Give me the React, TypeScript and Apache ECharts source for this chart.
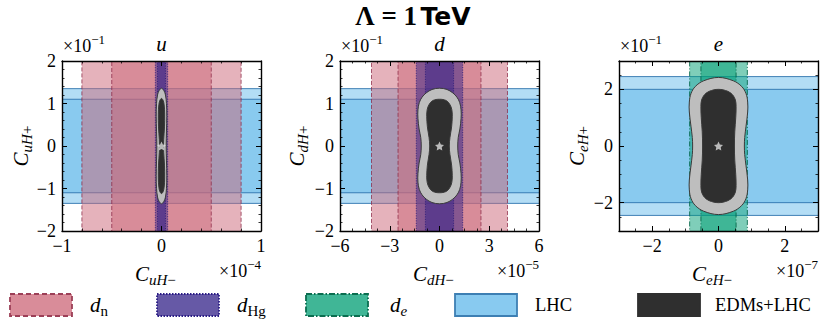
import React, { useEffect, useRef } from "react";
import * as echarts from "echarts";

// ---------- data ----------
const panelNames = ["u", "d", "e"];
const xMin = [-1, -6, -3];
const xMax = [1, 6, 3];
const xMajor = [[-1, 0, 1], [-6, -3, 0, 3, 6], [-2, 0, 2]];
const xMinorStep = [0.2, 0.75, 0.5];
const yMin = [-2, -2, -3];
const yMax = [2, 2, 3];
const yMajor = [[-2, -1, 0, 1, 2], [-2, -1, 0, 1, 2], [-2, 0, 2]];
const yMinorStep = [0.2, 0.2, 0.5];
const xExponent = ["−4", "−5", "−7"];
const yExponent = ["−1", "−1", "−1"];

// band half-widths (null = band absent in that panel)
const lhcInner = [1.1, 1.1, 2.0];
const lhcOuter = [1.35, 1.35, 2.45];
const dnInner = [0.5, 2.5, null];
const dnOuter = [0.8, 4.1, null];
const dHgInner = [0.04, 0.85, null];
const dHgOuter = [0.062, 1.4, null];
const deInner = [null, null, 0.53];
const deOuter = [null, null, 0.87];

// quarter contour outlines [x, y], from top (x = 0) down to y = 0
const grayU = [[0, 1.36], [0.025, 1.3], [0.04, 1.2], [0.05, 1.0], [0.053, 0.7], [0.05, 0.35], [0.047, 0]];
const blackU = [[0, 1.12], [0.015, 1.08], [0.026, 0.98], [0.032, 0.75], [0.03, 0.45], [0.022, 0.15], [0.02, 0]];
const grayD = [[0, 1.36], [0.45, 1.33], [0.8, 1.25], [1.05, 1.15], [1.22, 1.02], [1.3, 0.85], [1.3, 0.65], [1.23, 0.4], [1.13, 0.2], [1.1, 0]];
const blackD = [[0, 1.1], [0.4, 1.07], [0.62, 0.98], [0.74, 0.86], [0.77, 0.7], [0.73, 0.45], [0.63, 0.2], [0.59, 0]];
const grayE = [[0, 2.42], [0.45, 2.3], [0.7, 2.1], [0.83, 1.85], [0.88, 1.55], [0.88, 1.2], [0.83, 0.7], [0.79, 0.3], [0.78, 0]];
const blackE = [[0, 2.0], [0.28, 1.93], [0.43, 1.8], [0.51, 1.62], [0.53, 1.4], [0.52, 1.0], [0.49, 0.5], [0.48, 0]];
const grayContours = [grayU, grayD, grayE];
const blackContours = [blackU, blackD, blackE];
const bestFit = [[0, 0]];

// legend
const legendKeys = ["dn", "dHg", "de", "lhc", "edm"];

// ---------- styles ----------
const SERIF = "'Liberation Serif', 'DejaVu Serif', serif";
const gridLeft = [62, 340, 619];
const gridTop = 61;
const gridW = 199;
const gridH = 170;

const BLUE = { fill: "rgba(86,180,233,0.45)", stroke: "rgba(40,110,170,0.85)", dash: null as any };
const PINK = { fill: "rgba(204,102,119,0.5)", stroke: "rgba(140,40,70,0.75)", dash: [4, 2] };
const PURPLE = { fill: "rgba(51,34,136,0.5)", stroke: "rgba(40,25,120,0.85)", dash: [1, 1.5] };
const GREEN = { fill: "rgba(0,158,115,0.5)", stroke: "rgba(0,100,70,0.85)", dash: [5, 2, 1, 2] };

function mirror(q: number[][]) {
  const right = q.concat(q.slice(0, -1).reverse().map(([x, y]) => [x, -y]));
  const left = right.slice(1, -1).reverse().map(([x, y]) => [-x, y]);
  return right.concat(left);
}

function bandSeries(i: number, data: number[][], st: any) {
  return {
    type: "custom",
    xAxisIndex: 4 * i,
    yAxisIndex: 4 * i,
    clip: true,
    silent: true,
    data,
    renderItem: (_p: any, api: any) => {
      const p0 = api.coord([api.value(0), api.value(3)]);
      const p1 = api.coord([api.value(1), api.value(2)]);
      return {
        type: "rect",
        shape: { x: p0[0], y: p0[1], width: p1[0] - p0[0], height: p1[1] - p0[1] },
        style: { fill: st.fill, stroke: st.stroke, lineWidth: 1, lineDash: st.dash || undefined },
      };
    },
  };
}

function contourSeries(i: number, q: number[][], fill: string) {
  const pts = mirror(q);
  return {
    type: "custom",
    xAxisIndex: 4 * i,
    yAxisIndex: 4 * i,
    clip: true,
    silent: true,
    data: [[0, 0]],
    renderItem: (_p: any, api: any) => ({
      type: "polygon",
      shape: { points: pts.map((p) => api.coord(p)), smooth: 0.35 },
      style: { fill, stroke: "#3a3a3a", lineWidth: 1 },
    }),
  };
}

const fmt = (v: number) => (v < 0 ? "−" + Math.abs(v) : String(v));

function axisPair(i: number, isX: boolean, position: string, withLabels: boolean) {
  const min = isX ? xMin[i] : yMin[i];
  const max = isX ? xMax[i] : yMax[i];
  const step = isX ? xMinorStep[i] : yMinorStep[i];
  const majors = isX ? xMajor[i] : yMajor[i];
  const common = {
    type: "value",
    gridIndex: i,
    position,
    min,
    max,
    interval: step,
    z: 10,
    splitLine: { show: false },
    minorTick: { show: false },
  };
  const major = {
    ...common,
    axisLine: { show: true, onZero: false, lineStyle: { color: "#000", width: 1.4 } },
    axisTick: { show: true, inside: true, length: 5, customValues: majors, lineStyle: { color: "#000", width: 1 } },
    axisLabel: withLabels
      ? {
          show: true,
          color: "#000",
          fontFamily: SERIF,
          fontSize: 18,
          margin: 6,
          customValues: majors,
          formatter: fmt,
        }
      : { show: false },
  };
  const minor = {
    ...common,
    axisLine: { show: false, onZero: false },
    axisTick: { show: true, inside: true, length: 2.5, lineStyle: { color: "#000", width: 0.8 } },
    axisLabel: { show: false },
  };
  return [major, minor];
}

const richBase = {
  c: { fontFamily: SERIF, fontStyle: "italic", fontSize: 21, lineHeight: 26, verticalAlign: "middle", fill: "#000" },
  s: { fontFamily: SERIF, fontStyle: "italic", fontSize: 15, lineHeight: 14, verticalAlign: "bottom", fill: "#000" },
  sn: { fontFamily: SERIF, fontSize: 15, lineHeight: 14, verticalAlign: "bottom", fill: "#000" },
  m: { fontFamily: SERIF, fontSize: 18, lineHeight: 26, verticalAlign: "middle", fill: "#000" },
  sup: { fontFamily: SERIF, fontSize: 13, lineHeight: 13, verticalAlign: "top", fill: "#000" },
  t: { fontFamily: SERIF, fontSize: 18.5, lineHeight: 26, verticalAlign: "middle", fill: "#000" },
};

function textEl(x: number, y: number, text: string, align: string, vAlign: string, extra: any = {}) {
  return {
    type: "text",
    x,
    y,
    ...extra,
    style: {
      text,
      rich: richBase,
      align,
      textAlign: align,
      verticalAlign: vAlign,
      textVerticalAlign: vAlign,
      fill: "#000",
    },
  };
}

function buildOption() {
  const grid: any[] = [];
  const xAxis: any[] = [];
  const yAxis: any[] = [];
  const series: any[] = [];
  const graphic: any[] = [];

  for (let i = 0; i < 3; i++) {
    grid.push({ left: gridLeft[i], top: gridTop, width: gridW, height: gridH, containLabel: false });
    xAxis.push(...axisPair(i, true, "bottom", true), ...axisPair(i, true, "top", false));
    yAxis.push(...axisPair(i, false, "left", true), ...axisPair(i, false, "right", false));

    const big = 100;
    series.push(bandSeries(i, [[xMin[i] - big, xMax[i] + big, -lhcOuter[i], lhcOuter[i]]], BLUE));
    series.push(bandSeries(i, [[xMin[i] - big, xMax[i] + big, -lhcInner[i], lhcInner[i]]], BLUE));
    const vbands: [any[], any[], any][] = [
      [dnOuter, dnInner, PINK],
      [dHgOuter, dHgInner, PURPLE],
      [deOuter, deInner, GREEN],
    ];
    for (const [outer, inner, st] of vbands) {
      if (outer[i] != null) series.push(bandSeries(i, [[-outer[i], outer[i], yMin[i] - big, yMax[i] + big]], st));
      if (inner[i] != null) series.push(bandSeries(i, [[-inner[i], inner[i], yMin[i] - big, yMax[i] + big]], st));
    }
    series.push(contourSeries(i, grayContours[i], "#bebebe"));
    series.push(contourSeries(i, blackContours[i], "#2f2f2f"));
    series.push({
      type: "scatter",
      xAxisIndex: 4 * i,
      yAxisIndex: 4 * i,
      silent: true,
      data: bestFit,
      symbol:
        "path://M0,-10 L2.9,-4 9.5,-3.1 4.7,1.5 5.9,8.1 0,5 -5.9,8.1 -4.7,1.5 -9.5,-3.1 -2.9,-4 Z",
      symbolSize: 9,
      itemStyle: { color: "#dcdcdc" },
      z: 5,
    });

    const L = gridLeft[i];
    const n = panelNames[i];
    graphic.push(textEl(L + gridW / 2, 44, `{c|${n}}`, "center", "middle"));
    graphic.push(textEl(L + 1, 46, `{m|×10}{sup|${yExponent[i]}}`, "left", "middle"));
    graphic.push(textEl(L + gridW, 271, `{m|×10}{sup|${xExponent[i]}}`, "right", "middle"));
    graphic.push(textEl(L + 73, 274, `{c|C}{s|${n}H}{sn|−}`, "left", "middle"));
    const yNameX = [21, 297, 577][i];
    graphic.push(
      textEl(yNameX, gridTop + gridH / 2, `{c|C}{s|${n}H}{sn|+}`, "center", "middle", { rotation: Math.PI / 2 })
    );
  }

  // title
  graphic.push({
    type: "text",
    x: 413,
    y: 16,
    style: {
      text: "{a|Λ = 1}{g| }{b|TeV}",
      align: "center",
      textAlign: "center",
      verticalAlign: "middle",
      textVerticalAlign: "middle",
      rich: {
        a: { fontFamily: SERIF, fontWeight: "bold", fontSize: 27, fill: "#000" },
        g: { fontFamily: SERIF, fontSize: 14, fill: "#000" },
        b: {
          fontFamily: "'DejaVu Sans', sans-serif",
          fontWeight: "bold",
          fontSize: 25,
          fill: "#000",
        },
      },
    },
  });

  // legend
  const legendPatchX = [10, 157, 306, 455, 638];
  const legendLabelX = [90, 237, 390, 535, 715];
  const legendFill: Record<string, string> = {
    dn: "rgba(204,102,119,0.75)",
    dHg: "rgba(51,34,136,0.75)",
    de: "rgba(0,158,115,0.75)",
    lhc: "rgba(86,180,233,0.7)",
    edm: "#2f2f2f",
  };
  const legendStroke: Record<string, string> = {
    dn: "#9c3f57",
    dHg: "#2b1d85",
    de: "#0b6e50",
    lhc: "#3d7fb3",
    edm: "#2f2f2f",
  };
  const legendDash: Record<string, any> = { dn: [5, 3], dHg: [1.5, 1.5], de: [6, 2, 1.5, 2], lhc: null, edm: null };
  const legendText: Record<string, string> = {
    dn: "{c|d}{sn|n}",
    dHg: "{c|d}{sn|Hg}",
    de: "{c|d}{s|e}",
    lhc: "{t|LHC}",
    edm: "{t|EDMs+LHC}",
  };
  legendKeys.forEach((k, j) => {
    graphic.push({
      type: "rect",
      shape: { x: legendPatchX[j], y: 294, width: 62, height: 22 },
      style: {
        fill: legendFill[k],
        stroke: legendStroke[k],
        lineWidth: 1.8,
        lineDash: legendDash[k] || undefined,
      },
    });
    graphic.push(textEl(legendLabelX[j], 305, legendText[k], "left", "middle"));
  });

  return { animation: false, grid, xAxis, yAxis, series, graphic };
}

export default function App() {
  const ref = useRef<HTMLDivElement>(null);
  useEffect(() => {
    document.body.style.margin = "0";
    const chart = echarts.init(ref.current!, null, { renderer: "svg" });
    chart.setOption(buildOption() as any);
    return () => chart.dispose();
  }, []);
  return <div ref={ref} style={{ width: 820, height: 324, background: "#fff" }} />;
}
